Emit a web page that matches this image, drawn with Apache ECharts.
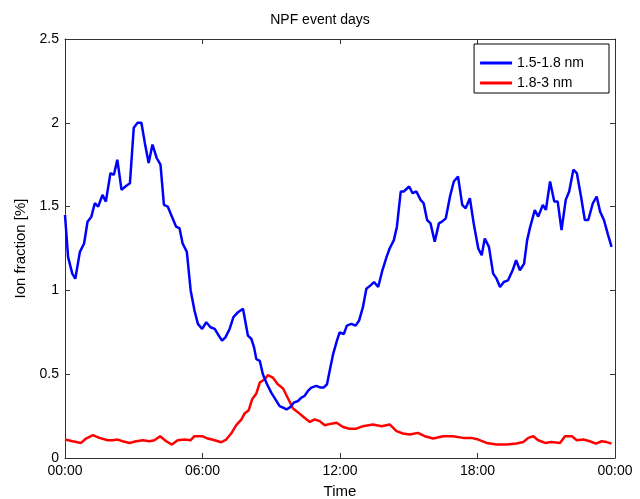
<!DOCTYPE html>
<html>
<head>
<meta charset="utf-8">
<script src="https://cdn.jsdelivr.net/npm/echarts@6/dist/echarts.min.js"></script>
<style>html,body{margin:0;padding:0;background:#fff;}#c{width:640px;height:499px;}</style>
</head>
<body>
<div id="c"></div>
<script>
// time in minutes after midnight
var blueMin = [0,8,19,27,39,50,59,69,78,87,98,107,119,128,137,148,158,170,180,190,200,209,219,229,240,250,259,269,280,291,300,308,319,329,339,348,359,370,381,392,400,411,420,431,441,453,466,470,479,488,495,501,510,518,529,540,551,562,571,580,588,599,610,619,627,636,645,658,669,677,686,693,702,712,719,730,738,750,761,770,780,789,800,809,820,831,842,850,861,869,879,887,892,901,910,920,931,939,948,957,968,979,987,997,1008,1018,1029,1040,1049,1060,1070,1082,1091,1099,1110,1121,1130,1139,1149,1160,1172,1181,1191,1202,1210,1217,1230,1239,1251,1259,1270,1281,1290,1300,1311,1320,1331,1340,1351,1361,1370,1382,1392,1401,1411,1422,1431];
var blueVal = [1.45,1.20,1.10,1.07,1.23,1.28,1.41,1.44,1.52,1.50,1.57,1.53,1.70,1.69,1.78,1.60,1.62,1.64,1.97,2.00,2.00,1.88,1.76,1.87,1.79,1.75,1.51,1.50,1.44,1.38,1.37,1.28,1.23,1.00,0.88,0.80,0.77,0.81,0.78,0.77,0.74,0.70,0.72,0.77,0.84,0.87,0.89,0.88,0.73,0.71,0.66,0.59,0.58,0.50,0.44,0.39,0.35,0.31,0.30,0.29,0.30,0.33,0.34,0.36,0.37,0.40,0.42,0.43,0.42,0.42,0.44,0.52,0.62,0.70,0.75,0.74,0.79,0.80,0.79,0.82,0.90,1.01,1.03,1.05,1.02,1.12,1.20,1.25,1.30,1.38,1.59,1.59,1.60,1.62,1.58,1.59,1.54,1.52,1.42,1.40,1.29,1.40,1.41,1.43,1.56,1.65,1.68,1.51,1.49,1.55,1.40,1.25,1.21,1.31,1.26,1.10,1.07,1.02,1.05,1.06,1.12,1.18,1.12,1.16,1.30,1.37,1.48,1.44,1.51,1.48,1.65,1.53,1.53,1.36,1.54,1.59,1.72,1.70,1.56,1.42,1.42,1.52,1.56,1.47,1.42,1.33,1.26];
var redMin = [0,20,42,55,73,90,112,125,138,151,169,186,204,221,234,249,265,280,295,313,329,339,359,374,392,409,422,435,448,462,470,481,490,501,510,523,531,544,557,571,584,597,614,627,641,654,667,680,697,711,728,745,763,780,806,829,850,868,885,903,924,942,964,990,1016,1042,1064,1082,1104,1130,1156,1182,1200,1213,1226,1239,1257,1274,1296,1309,1327,1340,1357,1374,1390,1405,1418,1431];
var redVal = [0.11,0.10,0.09,0.116,0.136,0.12,0.106,0.106,0.11,0.10,0.09,0.10,0.106,0.10,0.106,0.13,0.10,0.08,0.106,0.11,0.106,0.13,0.13,0.116,0.106,0.094,0.11,0.146,0.195,0.23,0.265,0.285,0.35,0.385,0.45,0.47,0.494,0.48,0.44,0.415,0.355,0.295,0.265,0.24,0.215,0.23,0.22,0.195,0.205,0.21,0.185,0.175,0.175,0.19,0.20,0.19,0.20,0.16,0.146,0.14,0.15,0.13,0.116,0.13,0.13,0.12,0.12,0.11,0.09,0.08,0.08,0.086,0.095,0.12,0.13,0.106,0.09,0.095,0.09,0.13,0.13,0.106,0.11,0.10,0.086,0.10,0.095,0.086];
var seriesNames = ['1.5-1.8 nm','1.8-3 nm'];
var xTickLabels = ['00:00','06:00','12:00','18:00','00:00'];

function pairs(t, v){ return t.map(function(x,i){ return [x, v[i]]; }); }

var chart = echarts.init(document.getElementById('c'));
var font = 'Liberation Sans, Arial, sans-serif';
function axisBase(){
  return {
    axisLine: {show: true, onZero: false, lineStyle: {color: '#333', width: 1}},
    axisTick: {show: true, inside: true, length: 5, lineStyle: {color: '#333'}},
    splitLine: {show: false}
  };
}
chart.setOption({
  animation: false,
  backgroundColor: '#fff',
  title: {text: 'NPF event days', left: 'center', top: 8,
    textStyle: {fontFamily: font, fontSize: 14, fontWeight: 'normal', color: '#000'}},
  grid: {left: 65, right: 25, top: 39, bottom: 41, containLabel: false, outerBoundsMode: 'none'},
  legend: {
    orient: 'vertical', right: 31, top: 44,
    data: seriesNames,
    icon: 'rect', itemWidth: 32, itemHeight: 3, itemGap: 6,
    padding: [12, 25, 3, 6],
    borderColor: '#000', borderWidth: 1, backgroundColor: '#fff', borderRadius: 0,
    textStyle: {fontFamily: font, fontSize: 14, color: '#000'}
  },
  xAxis: [
    Object.assign(axisBase(), {
      type: 'value', min: 0, max: 1440, interval: 360, position: 'bottom',
      name: 'Time', nameLocation: 'middle', nameGap: 26,
      nameTextStyle: {fontFamily: font, fontSize: 15, color: '#000'},
      axisLabel: {fontFamily: font, fontSize: 14, color: '#000', margin: 6,
        formatter: function(v){ return xTickLabels[Math.round(v/360)]; }}
    }),
    Object.assign(axisBase(), {
      type: 'value', min: 0, max: 1440, interval: 360, position: 'top',
      axisLabel: {show: false}
    })
  ],
  yAxis: [
    Object.assign(axisBase(), {
      type: 'value', min: 0, max: 2.5, interval: 0.5, position: 'left',
      name: 'Ion fraction [%]', nameLocation: 'middle', nameGap: 35,
      nameTextStyle: {fontFamily: font, fontSize: 15, color: '#000'},
      axisLabel: {fontFamily: font, fontSize: 14, color: '#000', margin: 6}
    }),
    Object.assign(axisBase(), {
      type: 'value', min: 0, max: 2.5, interval: 0.5, position: 'right',
      axisLabel: {show: false}
    })
  ],
  series: [
    {name: seriesNames[0], type: 'line', data: pairs(blueMin, blueVal), showSymbol: false,
     lineStyle: {color: '#0000ff', width: 2.5}, itemStyle: {color: '#0000ff'}, z: 3},
    {name: seriesNames[1], type: 'line', data: pairs(redMin, redVal), showSymbol: false,
     lineStyle: {color: '#ff0000', width: 2.5}, itemStyle: {color: '#ff0000'}, z: 2}
  ]
});
</script>
</body>
</html>
